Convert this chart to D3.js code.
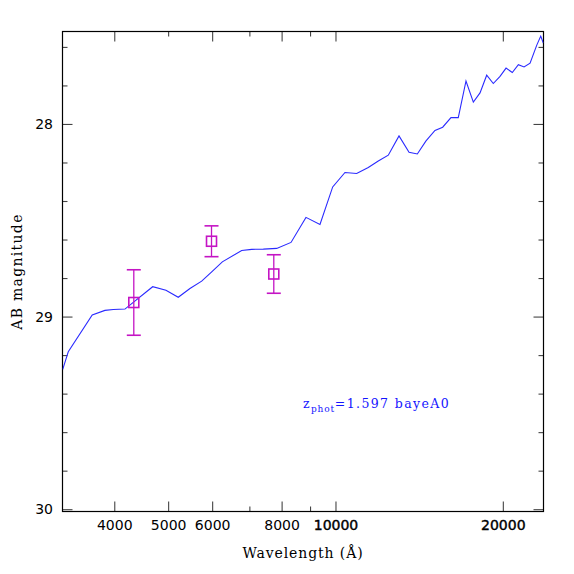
<!DOCTYPE html>
<html>
<head>
<meta charset="utf-8">
<script src="https://d3js.org/d3.v7.min.js"></script>
<style>
  body { margin: 0; background: #fff; }
  svg { display: block; }
</style>
</head>
<body>
<div id="chart"></div>
<script>
// model SED (wavelength in Angstrom, AB mag)
var sedWave = [3231, 3306, 3651, 3848, 3984, 4181, 4690, 4955, 5214, 5473, 5745, 5989,
  6258, 6781, 7068, 7416, 7839, 8318, 8849, 9378, 9885, 10401, 10917, 11455, 11940,
  12445, 13010, 13562, 14035, 14550, 15100, 15590, 16135, 16630, 17170, 17700, 18197,
  18707, 19226, 19770, 20270, 20800, 21330, 21840, 22390, 23010, 23400, 23650];
var sedMag = [29.274, 29.183, 28.992, 28.968, 28.963, 28.961, 28.845, 28.863, 28.900,
  28.854, 28.816, 28.768, 28.716, 28.657, 28.651, 28.650, 28.646, 28.615, 28.485, 28.522,
  28.327, 28.252, 28.257, 28.226, 28.192, 28.162, 28.062, 28.147, 28.156, 28.088, 28.034,
  28.017, 27.967, 27.967, 27.777, 27.887, 27.839, 27.747, 27.790, 27.753, 27.710, 27.733,
  27.692, 27.704, 27.684, 27.592, 27.544, 27.580];

// observed photometry
var photWave = [4337, 5984, 7745];
var photMag = [28.927, 28.609, 28.779];
var photErr = [0.17, 0.08, 0.10];

// ticks
var xLabelTicks = [4000, 5000, 6000, 8000, 10000, 20000];
var xMinorBottom = [7000, 9000];
var xMajorTop = [4000, 6000, 8000, 10000, 20000];
var xMinorTop = [5000, 7000, 9000];
var yMajor = [28, 29, 30];
var yMinor = [27.6, 27.8, 28.2, 28.4, 28.6, 28.8, 29.2, 29.4, 29.6, 29.8];

var annot = { base: "z", sub: "phot", rest: "=1.597 bayeA0" };

var W = 574, H = 574;
var L = 62.5, R = 543.5, T = 31.5, B = 511.5;

var svg = d3.select("#chart").append("svg")
  .attr("width", W).attr("height", H);
svg.append("rect").attr("width", W).attr("height", H).attr("fill", "#fff");

var x = d3.scaleLog().domain([3228, 23670]).range([L, R]);
var y = d3.scaleLinear().domain([27.52, 30.012]).range([T, B]);

svg.append("defs").append("clipPath").attr("id", "clip")
  .append("rect").attr("x", L).attr("y", T).attr("width", R - L).attr("height", B - T);

var tickColor = "#444";

function styleAxis(g) {
  g.select(".domain").remove();
  g.selectAll(".tick line").attr("stroke", tickColor).attr("stroke-width", 1.1);
}

// bottom axis with labels
var gxb = svg.append("g").attr("transform", "translate(0," + B + ")")
  .call(d3.axisBottom(x).tickValues(xLabelTicks).tickFormat(d3.format("d"))
    .tickSizeInner(-10).tickSizeOuter(0).tickPadding(9))
  .call(styleAxis);
gxb.selectAll(".tick text")
  .attr("font-family", "DejaVu Sans, sans-serif").attr("font-size", 14).attr("fill", "#000")
  .attr("stroke", function (d) { return d >= 10000 ? "#000" : "none"; })
  .attr("stroke-width", 0.4);
svg.append("g").attr("transform", "translate(0," + B + ")")
  .call(d3.axisBottom(x).tickValues(xMinorBottom).tickFormat("")
    .tickSizeInner(-5).tickSizeOuter(0))
  .call(styleAxis);

// top axis
svg.append("g").attr("transform", "translate(0," + T + ")")
  .call(d3.axisTop(x).tickValues(xMajorTop).tickFormat("")
    .tickSizeInner(-10).tickSizeOuter(0))
  .call(styleAxis);
svg.append("g").attr("transform", "translate(0," + T + ")")
  .call(d3.axisTop(x).tickValues(xMinorTop).tickFormat("")
    .tickSizeInner(-5).tickSizeOuter(0))
  .call(styleAxis);

// left axis
var gyl = svg.append("g").attr("transform", "translate(" + L + ",0)")
  .call(d3.axisLeft(y).tickValues(yMajor).tickFormat(d3.format("d"))
    .tickSizeInner(-10).tickSizeOuter(0).tickPadding(9.5))
  .call(styleAxis);
gyl.selectAll(".tick text")
  .attr("font-family", "DejaVu Sans, sans-serif").attr("font-size", 14).attr("fill", "#000");
svg.append("g").attr("transform", "translate(" + L + ",0)")
  .call(d3.axisLeft(y).tickValues(yMinor).tickFormat("")
    .tickSizeInner(-5).tickSizeOuter(0))
  .call(styleAxis);

// right axis
svg.append("g").attr("transform", "translate(" + R + ",0)")
  .call(d3.axisRight(y).tickValues(yMajor).tickFormat("")
    .tickSizeInner(-10).tickSizeOuter(0))
  .call(styleAxis);
svg.append("g").attr("transform", "translate(" + R + ",0)")
  .call(d3.axisRight(y).tickValues(yMinor).tickFormat("")
    .tickSizeInner(-5).tickSizeOuter(0))
  .call(styleAxis);

// frame
svg.append("rect").attr("x", L).attr("y", T).attr("width", R - L).attr("height", B - T)
  .attr("fill", "none").attr("stroke", "#000").attr("stroke-width", 1.2);

// SED line
var line = d3.line().x(function (d) { return x(d[0]); }).y(function (d) { return y(d[1]); });
svg.append("path")
  .datum(d3.zip(sedWave, sedMag))
  .attr("clip-path", "url(#clip)")
  .attr("d", line)
  .attr("fill", "none").attr("stroke", "#2a2aff").attr("stroke-width", 1.1);

// photometry points with error bars
var mag = "#c414c4";
var pts = svg.append("g").selectAll("g")
  .data(d3.zip(photWave, photMag, photErr))
  .join("g");
pts.append("line")
  .attr("x1", function (d) { return x(d[0]); }).attr("x2", function (d) { return x(d[0]); })
  .attr("y1", function (d) { return y(d[1] - d[2]); }).attr("y2", function (d) { return y(d[1] + d[2]); })
  .attr("stroke", mag).attr("stroke-width", 1.3);
[-1, 1].forEach(function (s) {
  pts.append("line")
    .attr("x1", function (d) { return x(d[0]) - 7; }).attr("x2", function (d) { return x(d[0]) + 7; })
    .attr("y1", function (d) { return y(d[1] + s * d[2]); }).attr("y2", function (d) { return y(d[1] + s * d[2]); })
    .attr("stroke", mag).attr("stroke-width", 1.6);
});
pts.append("rect")
  .attr("x", function (d) { return x(d[0]) - 5; }).attr("y", function (d) { return y(d[1]) - 5; })
  .attr("width", 10).attr("height", 10)
  .attr("fill", "none").attr("stroke", mag).attr("stroke-width", 1.6);

// axis titles
svg.append("text")
  .attr("x", (L + R) / 2).attr("y", 558)
  .attr("text-anchor", "middle")
  .attr("font-family", "DejaVu Serif, serif").attr("font-size", 14)
  .attr("letter-spacing", 0.9)
  .text("Wavelength (Å)");
svg.append("text")
  .attr("transform", "translate(22," + (T + B) / 2 + ") rotate(-90)")
  .attr("text-anchor", "middle")
  .attr("font-family", "DejaVu Serif, serif").attr("font-size", 14)
  .attr("letter-spacing", 1.3)
  .text("AB magnitude");

// photo-z annotation
var ann = svg.append("text")
  .attr("x", 303).attr("y", 408)
  .attr("font-family", "DejaVu Serif, serif").attr("font-size", 12.5)
  .attr("fill", "#1414ff").attr("letter-spacing", 1.4);
ann.append("tspan").text(annot.base);
ann.append("tspan").attr("dy", 4).attr("font-size", 9).attr("letter-spacing", 0.8).text(annot.sub);
ann.append("tspan").attr("dy", -4).text(annot.rest);
</script>
</body>
</html>
